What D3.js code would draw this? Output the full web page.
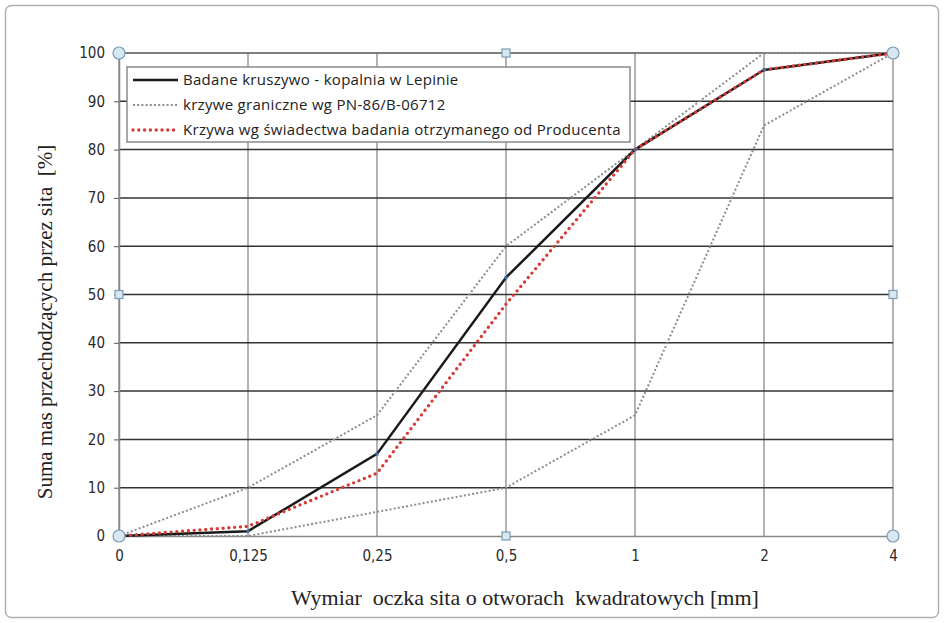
<!DOCTYPE html>
<html>
<head>
<meta charset="utf-8">
<script src="https://cdn.jsdelivr.net/npm/d3@7"></script>
<style>
  body { margin: 0; background: #fff; }
  .tick text { font-family: "DejaVu Sans Condensed", "Liberation Sans Narrow", sans-serif; font-stretch: condensed; font-size: 15px; fill: #2a2a2a; }
</style>
</head>
<body>
<svg width="944" height="623"></svg>
<script>
// sieve sizes (categorical x axis) and curves
const sieves = ['0', '0,125', '0,25', '0,5', '1', '2', '4'];
const tested = [0, 1, 17, 53.5, 80, 96.5, 100];          // Badane kruszywo - kopalnia w Lepinie
const upperLimit = [0, 10, 25, 60, 80, 100, 100];        // krzywe graniczne (upper)
const lowerLimit = [0, 0, 5, 10, 25, 85, 100];           // krzywe graniczne (lower)
const producer = [0, 2, 13, 48, 80, 96.5, 100];          // Krzywa wg świadectwa
const yTicks = [0, 10, 20, 30, 40, 50, 60, 70, 80, 90, 100];
const legendLabels = [
  'Badane kruszywo - kopalnia w Lepinie',
  'krzywe graniczne wg PN-86/B-06712',
  'Krzywa wg świadectwa badania otrzymanego od Producenta'
];

const svg = d3.select('svg');
const width = Number(svg.attr('width'));
const height = Number(svg.attr('height'));
const margin = {top: 53, right: 51, bottom: 87, left: 119};

// outer chart border
svg.append('rect')
  .attr('x', 5.5).attr('y', 5.5)
  .attr('width', width - 11).attr('height', height - 11)
  .attr('rx', 6)
  .attr('fill', '#fff')
  .attr('stroke', '#b0b0b0')
  .attr('stroke-width', 1.5);

const x = d3.scalePoint().domain(sieves).range([margin.left, width - margin.right]);
const y = d3.scaleLinear().domain([0, 100]).range([height - margin.bottom, margin.top]);

const g = svg.append('g');

// vertical grid (grey)
g.append('g')
  .selectAll('line')
  .data(sieves)
  .join('line')
  .attr('x1', d => x(d)).attr('x2', d => x(d))
  .attr('y1', y(100)).attr('y2', y(0))
  .attr('stroke', '#9a9a9a')
  .attr('stroke-width', 1.5);

// horizontal grid (dark)
g.append('g')
  .selectAll('line')
  .data(yTicks.filter(d => d > 0 && d < 100))
  .join('line')
  .attr('x1', x('0')).attr('x2', x('4'))
  .attr('y1', d => y(d)).attr('y2', d => y(d))
  .attr('stroke', '#333')
  .attr('stroke-width', 1.5);

// top line at 100
g.append('line')
  .attr('x1', x('0')).attr('x2', x('4'))
  .attr('y1', y(100)).attr('y2', y(100))
  .attr('stroke', '#555')
  .attr('stroke-width', 1.5);

// axes
const yAxis = g.append('g')
  .attr('transform', `translate(${margin.left},0)`)
  .call(d3.axisLeft(y).tickValues(yTicks).tickSize(5).tickPadding(9));
yAxis.select('.domain').attr('stroke', '#888').attr('stroke-width', 1.5);
yAxis.selectAll('.tick line').attr('stroke', '#555');

const xAxis = g.append('g')
  .attr('transform', `translate(0,${y(0)})`)
  .call(d3.axisBottom(x).tickSize(0).tickPadding(14));
xAxis.select('.domain').attr('stroke', '#888').attr('stroke-width', 1.5);

// lines
const line = d3.line().x((d, i) => x(sieves[i])).y(d => y(d));

const series = [
  {data: upperLimit, stroke: '#8c8c8c', width: 2, dash: '2,2.2', cap: 'butt'},
  {data: lowerLimit, stroke: '#8c8c8c', width: 2, dash: '2,2.2', cap: 'butt'},
  {data: tested, stroke: '#1a1a1a', width: 2.5, dash: null, cap: 'butt'},
  {data: producer, stroke: '#d63a35', width: 3.4, dash: '0,5.8', cap: 'round'}
];

g.append('g')
  .selectAll('path')
  .data(series)
  .join('path')
  .attr('d', d => line(d.data))
  .attr('fill', 'none')
  .attr('stroke', d => d.stroke)
  .attr('stroke-width', d => d.width)
  .attr('stroke-dasharray', d => d.dash)
  .attr('stroke-linecap', d => d.cap);

// tiny blue markers on tested curve
g.append('g')
  .selectAll('rect')
  .data(tested.slice(1, -1))
  .join('rect')
  .attr('x', (d, i) => x(sieves[i + 1]) - 1.5)
  .attr('y', d => y(d) - 1.5)
  .attr('width', 3).attr('height', 3)
  .attr('fill', '#3a6fb0');

// legend
const legend = svg.append('g').attr('transform', 'translate(127,67)');
legend.append('rect')
  .attr('width', 503).attr('height', 75)
  .attr('fill', '#fff')
  .attr('stroke', '#8a8a8a')
  .attr('stroke-width', 1.5);

const legendStyles = [series[2], series[0], series[3]];
const items = legend.selectAll('g.item')
  .data(legendLabels)
  .join('g')
  .attr('class', 'item')
  .attr('transform', (d, i) => `translate(0,${13 + i * 25})`);

items.append('line')
  .attr('x1', 6).attr('x2', 51)
  .attr('stroke', (d, i) => legendStyles[i].stroke)
  .attr('stroke-width', (d, i) => legendStyles[i].width)
  .attr('stroke-dasharray', (d, i) => legendStyles[i].dash)
  .attr('stroke-linecap', (d, i) => legendStyles[i].cap);

items.append('text')
  .attr('x', 56)
  .attr('dy', '0.35em')
  .attr('font-family', '"Open Sans", "Noto Sans", sans-serif')
  .attr('font-size', 15)
  .attr('letter-spacing', 0.3)
  .attr('fill', '#222')
  .text(d => d);

// selection handles (circles at corners, squares at midpoints)
const corners = [['0', 100], ['4', 100], ['0', 0], ['4', 0]];
const mids = [['0,5', 100], ['0', 50], ['4', 50], ['0,5', 0]];
svg.append('g')
  .selectAll('circle')
  .data(corners)
  .join('circle')
  .attr('cx', d => x(d[0])).attr('cy', d => y(d[1]))
  .attr('r', 6)
  .attr('fill', '#d8e8f0')
  .attr('stroke', '#7a9cb4')
  .attr('stroke-width', 1.2);
svg.append('g')
  .selectAll('rect')
  .data(mids)
  .join('rect')
  .attr('x', d => x(d[0]) - 4).attr('y', d => y(d[1]) - 4)
  .attr('width', 8).attr('height', 8)
  .attr('fill', '#d8e8f0')
  .attr('stroke', '#7a9cb4')
  .attr('stroke-width', 1.2);

// axis titles
svg.append('text')
  .attr('x', 525).attr('y', 605)
  .attr('text-anchor', 'middle')
  .attr('font-family', '"Liberation Serif", "Times New Roman", serif')
  .attr('font-size', 22)
  .attr('fill', '#222')
  .attr('xml:space', 'preserve')
  .text('Wymiar  oczka sita o otworach  kwadratowych [mm]');

svg.append('text')
  .attr('transform', 'translate(52,322) rotate(-90)')
  .attr('text-anchor', 'middle')
  .attr('font-family', '"Liberation Serif", "Times New Roman", serif')
  .attr('font-size', 21)
  .attr('fill', '#222')
  .attr('xml:space', 'preserve')
  .text('Suma mas przechodzących przez sita  [%]');
</script>
</body>
</html>
